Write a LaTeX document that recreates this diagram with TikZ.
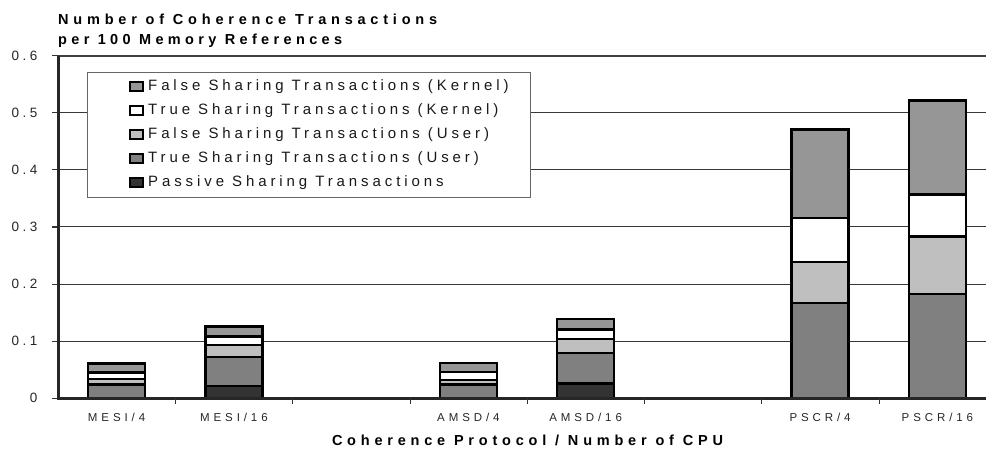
\documentclass[tikz,border=0pt]{standalone}
\usepackage{fontspec}
\setmainfont{Liberation Sans}
% wide-tracked Arial-like faces used throughout the chart
\newfontfamily\spacedfont[LetterSpace=34]{Liberation Sans}
\newfontfamily\tickfont[LetterSpace=26]{Liberation Sans}
\newfontfamily\headfont[LetterSpace=33]{Liberation Sans}
\newfontfamily\headfontb[LetterSpace=30]{Liberation Sans}
\newfontfamily\legendfont[LetterSpace=26]{Liberation Sans}

\definecolor{fkcol}{gray}{0.59}
\definecolor{tucol}{gray}{0.50}
\definecolor{fucol}{gray}{0.75}
\definecolor{pscol}{gray}{0.20}
\definecolor{gridcol}{gray}{0.22}
\definecolor{legframe}{gray}{0.40}

\tikzset{
  grid line/.style={draw=gridcol, line width=1pt},
  top line/.style={draw=black!75, line width=2pt},
  axis line/.style={draw=black!85, line width=2.6pt},
  tick line/.style={draw=black!80, line width=1.1pt},
  seg/.style={draw=black, line width=2.6pt},
  ticklab/.style={font=\tickfont\fontsize{13.5}{15}\selectfont, anchor=east, inner sep=0pt, text=black!85},
  catlab/.style={font=\spacedfont\fontsize{11.5}{13}\selectfont, inner sep=0pt, text=black!85},
  titletext/.style={font=\headfont\bfseries\fontsize{14.5}{16}\selectfont, inner sep=0pt},
  titletextb/.style={font=\headfontb\bfseries\fontsize{14.5}{16}\selectfont, inner sep=0pt},
  legtext/.style={font=\legendfont\fontsize{15}{17}\selectfont, inner sep=0pt, anchor=west, text=black!90},
  swatch/.style={draw=black, line width=2pt, minimum width=13pt, minimum height=8.5pt, inner sep=0pt},
  legbox/.style={draw=legframe, fill=white, line width=1pt}
}

% stacked bar: centre x, then cumulative tops of the five series
\newcommand{\chartbar}[6]{%
  \draw[seg, fill=pscol] ({#1-28.5},0) rectangle ({#1+28.5},#2);
  \draw[seg, fill=tucol] ({#1-28.5},#2) rectangle ({#1+28.5},#3);
  \draw[seg, fill=fucol] ({#1-28.5},#3) rectangle ({#1+28.5},#4);
  \draw[seg, fill=white] ({#1-28.5},#4) rectangle ({#1+28.5},#5);
  \draw[seg, fill=fkcol] ({#1-28.5},#5) rectangle ({#1+28.5},#6);
}

\begin{document}
\begin{tikzpicture}[x=1pt, y=-1pt]
  \useasboundingbox (0,0) rectangle (986,449);
  \fill[white] (0,0) rectangle (986,449);

  % value axis frame: origin at the baseline, one unit of y = 571px
  \begin{scope}[shift={(0,398.3)}, y=571pt]
    % horizontal grid
    \foreach \v in {0.1,0.2,0.3,0.4,0.5}
      \draw[grid line] (58.3,\v) -- (986,\v);
    \draw[top line] (58.3,0.6) -- (986,0.6);

    % y ticks and labels
    \foreach \v/\lab/\n in {0/0/a,0.1/0.1/b,0.2/0.2/c,0.3/0.3/d,0.4/0.4/e,0.5/0.5/f,0.6/0.6/g} {
      \draw[tick line] (52,\v) -- (58.3,\v);
      \node[ticklab] (ylab\n) at (37.5,\v) {\lab};
    }

    % legend
    \draw[legbox] (87.7,0.5713) rectangle (530,0.3524);

    % stacked bars
    \chartbar{116.6}{0}{0.024}{0.034}{0.045}{0.061}
    \chartbar{233.9}{0.0215}{0.072}{0.093}{0.108}{0.126}
    \chartbar{468.4}{0}{0.024}{0.032}{0.046}{0.0615}
    \chartbar{585.6}{0.0256}{0.079}{0.104}{0.120}{0.139}
    \chartbar{820.1}{0}{0.167}{0.239}{0.316}{0.471}
    \chartbar{937.4}{0}{0.183}{0.283}{0.357}{0.5215}

    % axes
    \draw[axis line] (58.3,0.6) -- (58.3,0);
    \draw[axis line] (57,0) -- (986,0);
  \end{scope}

  % category ticks
  \foreach \k in {1,...,7}
    \draw[tick line] ({58.3+117.25*\k},398.3) -- ({58.3+117.25*\k},403.5);

  % legend entries
  \node[swatch, fill=fkcol] (sw1) at (136,86.3) {};
  \node[swatch, fill=white] (sw2) at (136,110.3) {};
  \node[swatch, fill=fucol] (sw3) at (136,134.3) {};
  \node[swatch, fill=tucol] (sw4) at (136,158.3) {};
  \node[swatch, fill=pscol] (sw5) at (136,182.3) {};
  \node[legtext] (lg1) at (148,86.3) {False Sharing Transactions (Kernel)};
  \node[legtext] (lg2) at (148,110.3) {True Sharing Transactions (Kernel)};
  \node[legtext] (lg3) at (148,134.3) {False Sharing Transactions (User)};
  \node[legtext] (lg4) at (148,158.3) {True Sharing Transactions (User)};
  \node[legtext] (lg5) at (148,182.3) {Passive Sharing Transactions};

  % category labels
  \node[catlab] (c1) at (116.6,417.5) {MESI/4};
  \node[catlab] (c2) at (233.9,417.5) {MESI/16};
  \node[catlab] (c3) at (468.4,417.5) {AMSD/4};
  \node[catlab] (c4) at (585.6,417.5) {AMSD/16};
  \node[catlab] (c5) at (820.1,417.5) {PSCR/4};
  \node[catlab] (c6) at (937.4,417.5) {PSCR/16};

  % titles
  \node[titletext, anchor=base west] (vt1) at (58,24.5) {Number of Coherence Transactions};
  \node[titletextb, anchor=base west] (vt2) at (58,45) {per 100 Memory References};
  \node[titletext] (xt) at (527.5,440) {Coherence Protocol / Number of CPU};
\end{tikzpicture}
\end{document}
